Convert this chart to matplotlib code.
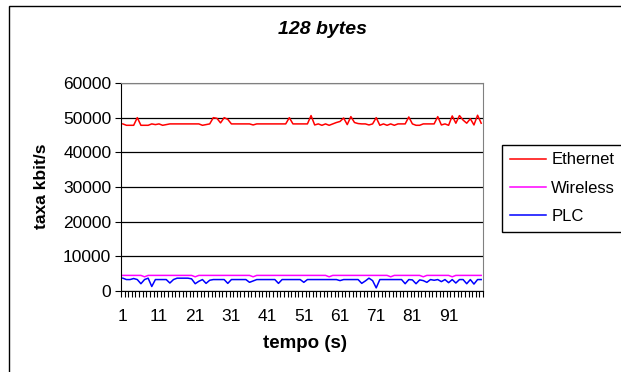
import matplotlib
matplotlib.use("Agg")
import matplotlib.pyplot as plt
from matplotlib.patches import Rectangle
import numpy as np

plt.rcParams['font.family'] = ['Liberation Sans', 'DejaVu Sans']

# tempo (s): 1..100
tempo = list(range(1, 101))

ethernet = [48200, 47800, 47800, 47800, 50000, 47800, 47800, 47800, 48200, 48000,
            48200, 47800, 48000, 48200, 48200, 48200, 48200, 48200, 48200, 48200,
            48200, 48200, 47800, 48000, 48200, 50000, 49800, 48500, 50000, 49500,
            48200, 48200, 48200, 48200, 48200, 48200, 47900, 48200, 48200, 48200,
            48200, 48200, 48200, 48200, 48200, 48200, 50000, 48200, 48200, 48200,
            48200, 48200, 50600, 47900, 48200, 47800, 48200, 47800, 48200, 48600,
            48900, 49900, 48000, 50300, 48600, 48300, 48200, 48200, 47900, 48200,
            50000, 47800, 48200, 47800, 48200, 47800, 48200, 48200, 48200, 50200,
            48200, 47800, 47800, 48200, 48200, 48200, 48200, 50300, 47900, 48200,
            47800, 50500, 48400, 50600, 49300, 48400, 49700, 47900, 50700, 48400]

wireless = [4500, 4500, 4500, 4500, 4500, 4500, 4100, 4500, 4500, 4500,
            4500, 4500, 4500, 4500, 4500, 4500, 4500, 4500, 4500, 4500,
            4100, 4500, 4500, 4500, 4500, 4500, 4500, 4500, 4500, 4500,
            4500, 4500, 4500, 4500, 4500, 4500, 4100, 4500, 4500, 4500,
            4500, 4500, 4500, 4500, 4500, 4500, 4500, 4500, 4500, 4500,
            4500, 4500, 4500, 4500, 4500, 4500, 4500, 4100, 4500, 4500,
            4500, 4500, 4500, 4500, 4500, 4500, 4500, 4500, 4500, 4500,
            4500, 4500, 4500, 4500, 4100, 4500, 4500, 4500, 4500, 4500,
            4500, 4500, 4500, 4100, 4500, 4500, 4500, 4500, 4500, 4500,
            4500, 4100, 4500, 4500, 4500, 4500, 4500, 4500, 4500, 4500]

plc = [3700, 3300, 3300, 3600, 3300, 2100, 3300, 3700, 1300, 3300,
       3300, 3300, 3300, 2300, 3300, 3700, 3700, 3700, 3700, 3500,
       2100, 2800, 3300, 2200, 3100, 3300, 3300, 3300, 3300, 2200,
       3300, 3300, 3300, 3300, 3300, 2500, 2900, 3300, 3300, 3300,
       3300, 3300, 3300, 2200, 3300, 3300, 3300, 3300, 3300, 3300,
       2500, 3300, 3300, 3300, 3300, 3300, 3300, 3300, 3300, 3300,
       3000, 3300, 3300, 3300, 3300, 3300, 2200, 2900, 3700, 3000,
       900, 3300, 3300, 3300, 3300, 3300, 3300, 3300, 2100, 3300,
       3200, 2100, 3200, 3000, 2500, 3300, 3100, 3300, 2700, 3300,
       2400, 3300, 2300, 3300, 3300, 2100, 3300, 2000, 3300, 3300]

fig = plt.figure(figsize=(6.21, 3.72), dpi=100)
fig.add_artist(Rectangle((9 / 621, -0.1), 1.0, 1 - 6 / 372 + 0.1,
                         transform=fig.transFigure, fill=False,
                         edgecolor='black', linewidth=1))

ax = fig.add_axes([121 / 621, 1 - 291 / 372, 362 / 621, 208 / 372])

ax.plot(tempo, ethernet, color='#FF0000', lw=1.1, label='Ethernet')
ax.plot(tempo, wireless, color='#FF00FF', lw=1.1, label='Wireless')
ax.plot(tempo, plc, color='#0000FF', lw=1.1, label='PLC')

ax.set_xlim(0.5, 100.5)
ax.set_ylim(0, 60000)
ax.set_yticks(range(0, 60001, 10000))
ax.set_xticks(range(1, 101, 10))
ax.set_xticks(np.arange(0.5, 101, 1), minor=True)
ax.tick_params(axis='x', which='major', length=0, pad=13, labelsize=12.5)
ax.tick_params(axis='x', which='minor', length=4, width=0.8, direction='out')
ax.tick_params(axis='y', length=4, width=0.8, pad=3, labelsize=12.5)

ax.set_axisbelow(True)
ax.yaxis.grid(True, color='black', lw=0.9)
ax.spines['top'].set_color('#808080')
ax.spines['right'].set_color('#808080')
for s in ['left', 'bottom']:
    ax.spines[s].set_color('black')

fig.text(322 / 621, 1 - 29 / 372, '128 bytes', ha='center', va='center',
         fontsize=14, fontweight='bold', fontstyle='italic')
fig.text(42 / 621, 1 - 186 / 372, 'taxa kbit/s', rotation=90, ha='center',
         va='center', fontsize=12.5, fontweight='bold')
fig.text(305 / 621, 1 - 344 / 372, 'tempo (s)', ha='center', va='center',
         fontsize=13.5, fontweight='bold')

leg = ax.legend(loc='upper left', bbox_to_anchor=(502 / 621, 1 - 145 / 372),
                bbox_transform=fig.transFigure, fancybox=False,
                edgecolor='black', framealpha=1, borderaxespad=0,
                handlelength=2.2, labelspacing=0.8, fontsize=12,
                borderpad=0.45, handletextpad=0.3)
leg.get_frame().set_linewidth(1)

fig.savefig('out.png', dpi=100)
